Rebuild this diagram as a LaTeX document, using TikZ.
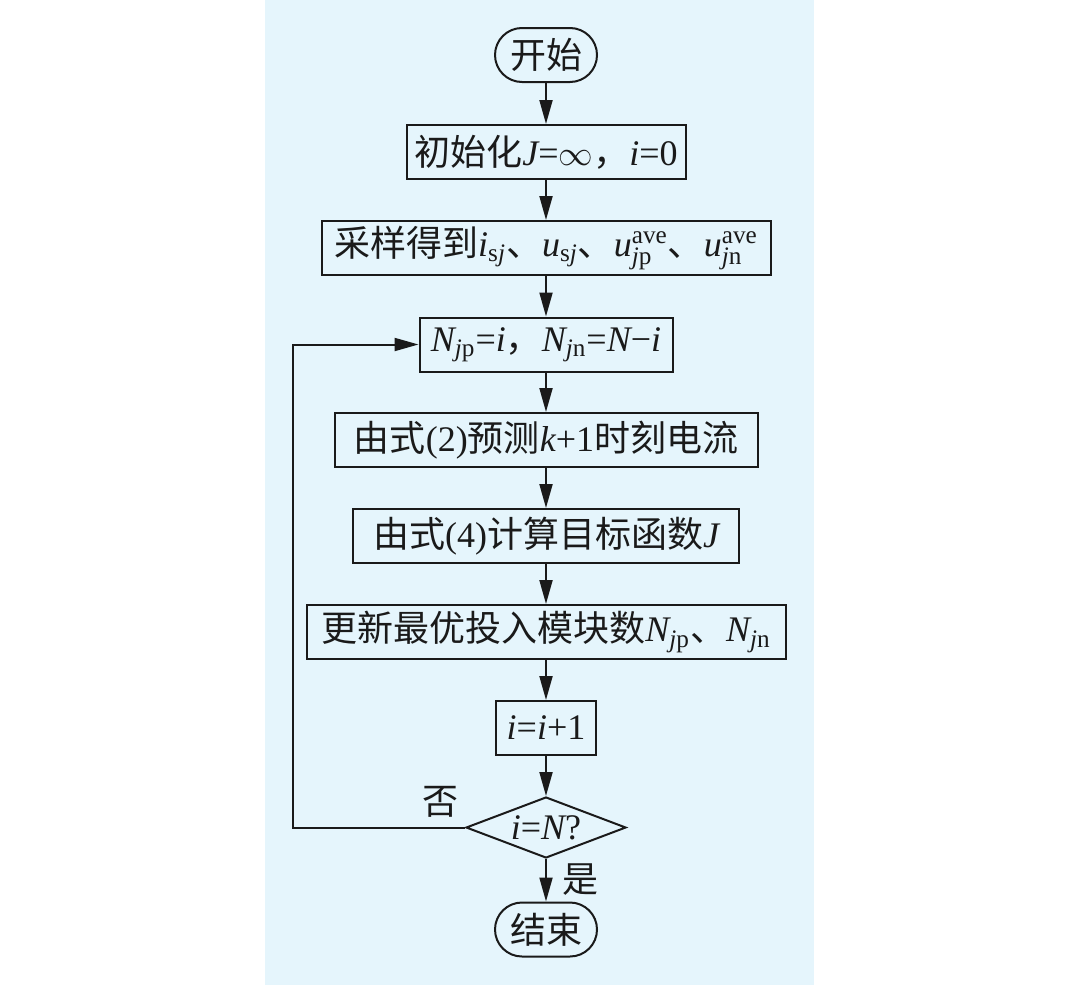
\documentclass[tikz,border=0pt]{standalone}
\usepackage{fontspec}
\setmainfont{Liberation Serif}
\newfontfamily\cjk{Noto Sans CJK SC}
\usetikzlibrary{arrows.meta}
\usetikzlibrary{shapes.geometric,positioning}
\definecolor{panel}{HTML}{E5F5FC}
\definecolor{ink}{HTML}{1A1A1A}
% text-font operators, set tight as in the chart
\newcommand{\opeq}{\mbox{=}}
\newcommand{\opplus}{\mbox{+}}
\newcommand{\opminus}{\mbox{−}}

\begin{document}
\begin{tikzpicture}[
                x=0.5pt, y=-0.5pt,
                >={Triangle[length=12pt, width=6.5pt]},
                font=\fontsize{18}{21}\selectfont,
                box/.style={rectangle, draw=ink, line width=1pt, minimum height=27pt,
                inner sep=2pt, text=ink},
                term/.style={box, rounded corners=13.5pt, minimum width=51pt},
                cond/.style={diamond, draw=ink, line width=1pt, minimum width=80pt,
                minimum height=30.5pt, aspect=2.6, inner sep=0pt, text=ink},
                flow/.style={->, line width=1pt, draw=ink},
                answer/.style={font=\cjk\fontsize{18}{21}\selectfont, text=ink},
                ]

                % ── Canvas: white page, blue panel behind the chart ──
                \useasboundingbox (0,0) rectangle (1080,985);
                \fill[white] (0,0) rectangle (1080,985);
                \fill[panel] (265,0) rectangle (814,985);

                \def\cx{546}   % axis of the chart
                \def\lx{293}   % x of the return line

                % Step centres, top to bottom
                \coordinate (S0) at (\cx, 55);
                \coordinate (S1) at (\cx, 152);
                \coordinate (S2) at (\cx, 248);
                \coordinate (S3) at (\cx, 344.5);
                \coordinate (S4) at (\cx, 440);
                \coordinate (S5) at (\cx, 536);
                \coordinate (S6) at (\cx, 632);
                \coordinate (S7) at (\cx, 728);
                \coordinate (S8) at (\cx, 827.5);
                \coordinate (S9) at (\cx, 929.5);

                % ── Steps ──
                \node[term] (start) at (S0) {\cjk 开始};
                \node[box, minimum width=139.5pt] (init) at (S1)
                    {{\cjk 初始化}$\mathit{J}\opeq\infty${\cjk ，}$\mathit{i}\opeq\mathrm{0}$};
                \node[box, minimum width=224.5pt] (sample) at (S2)
                    {{\cjk 采样得到}$\mathit{i}_{\mathrm{s}\mathit{j}}${\cjk 、}$\mathit{u}_{\mathrm{s}\mathit{j}}${\cjk 、}$\mathit{u}^{\mathrm{ave}}_{\mathit{j}\mathrm{p}}${\cjk 、}$\mathit{u}^{\mathrm{ave}}_{\mathit{j}\mathrm{n}}$};
                \node[box, minimum width=126.5pt] (count) at (S3)
                    {$\mathit{N}_{\mathit{j}\mathrm{p}}\opeq\mathit{i}${\cjk ，}$\mathit{N}_{\mathit{j}\mathrm{n}}\opeq\mathit{N}\opminus\mathit{i}$};
                \node[box, minimum width=211.5pt] (predict) at (S4)
                    {{\cjk 由式}(2){\cjk 预测}$\mathit{k}\opplus\mathrm{1}${\cjk 时刻电流}};
                \node[box, minimum width=193pt] (cost) at (S5)
                    {{\cjk 由式}(4){\cjk 计算目标函数}$\mathit{J}$};
                \node[box, minimum width=239.5pt] (update) at (S6)
                    {{\cjk 更新最优投入模块数}$\mathit{N}_{\mathit{j}\mathrm{p}}${\cjk 、}$\mathit{N}_{\mathit{j}\mathrm{n}}$};
                \node[box, minimum width=50pt] (incr) at (S7)
                    {$\mathit{i}\opeq\mathit{i}\opplus\mathrm{1}$};
                \node[cond] (check) at (S8) {$\mathit{i}\opeq\mathit{N}$?};
                \node[term] (stop) at (S9) {\cjk 结束};

                % ── Main flow ──
                \draw[flow] (start) -- (init);
                \draw[flow] (init) -- (sample);
                \draw[flow] (sample) -- (count);
                \draw[flow] (count) -- (predict);
                \draw[flow] (predict) -- (cost);
                \draw[flow] (cost) -- (update);
                \draw[flow] (update) -- (incr);
                \draw[flow] (incr) -- (check);
                \draw[flow] (check) -- (stop);

                % ── Return branch: not yet N ──
                \draw[flow] (check.west) -- (\lx, 827.5) -- (\lx, 344.5) -- (count.west);

                % Branch answers
                \node[answer] (no) at (440, 802) {否};
                \node[answer] (yes) at (580, 880) {是};

\end{tikzpicture}
\end{document}
